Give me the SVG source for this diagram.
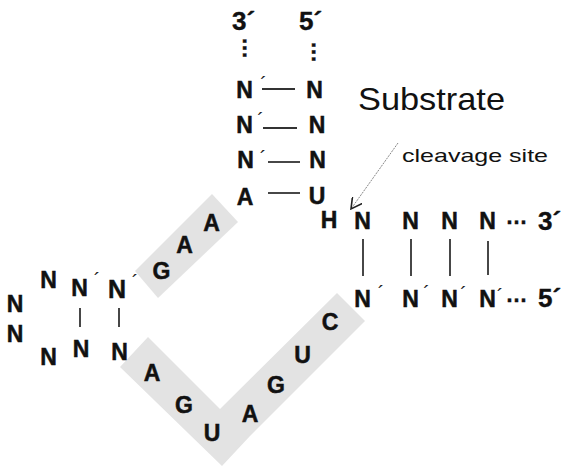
<svg xmlns="http://www.w3.org/2000/svg" width="566" height="467" viewBox="0 0 566 467">
  <style>
    .b { font-family: "Liberation Sans", Arial, sans-serif; font-weight: bold; font-size: 23px; fill: #111; stroke: #111; stroke-width: 0.5; text-anchor: middle; }
    .end { font-family: "Liberation Sans", Arial, sans-serif; font-weight: bold; font-size: 26px; fill: #111; stroke: #111; stroke-width: 0.4; }
    .pr { font-family: "Liberation Sans", Arial, sans-serif; font-size: 20px; fill: #222; text-anchor: middle; }
    .dots { font-family: "Liberation Sans", Arial, sans-serif; font-weight: bold; font-size: 22px; fill: #111; stroke: #111; stroke-width: 0.4; text-anchor: middle; }
    .lbl { font-family: "Liberation Sans", Arial, sans-serif; fill: #111; }
    .band { fill: #e3e3e3; }
    .bond { stroke: #333; stroke-width: 1.8; fill: none; }
    .ptr { stroke: #888; stroke-width: 1; fill: none; }
  </style>
  <defs>
    <marker id="vhead" viewBox="0 0 12 12" refX="11" refY="6" markerWidth="12" markerHeight="12" markerUnits="userSpaceOnUse" orient="auto">
      <path d="M0,0 L11,6 L0,12" fill="none" stroke="#222" stroke-width="1.6"/>
    </marker>
  </defs>

  <!-- shaded conserved core -->
  <g id="core-bands">
    <polygon class="band" points="135,271 212,194 238,222 158,298"/>
    <polygon class="band" points="120,367 148,337 220,409 337,293 365,321 250,436 222,466"/>
  </g>

  <!-- base-pair bonds and the cleavage pointer -->
  <g id="connectors">
    <line class="bond" x1="262" y1="89" x2="295" y2="89"/>
    <line class="bond" x1="263" y1="128" x2="297" y2="128"/>
    <line class="bond" x1="268" y1="162" x2="300" y2="162"/>
    <line class="bond" x1="268" y1="193" x2="300" y2="193"/>
    <line class="bond" x1="363" y1="239" x2="363" y2="276"/>
    <line class="bond" x1="411" y1="239" x2="411" y2="276"/>
    <line class="bond" x1="450" y1="239" x2="450" y2="276"/>
    <line class="bond" x1="488" y1="241" x2="488" y2="275"/>
    <line class="bond" x1="80" y1="308" x2="80" y2="327"/>
    <line class="bond" x1="119" y1="308" x2="119" y2="327"/>
    <line class="ptr" x1="398" y1="143" x2="351" y2="209" stroke-dasharray="2 1" marker-end="url(#vhead)"/>
  </g>

  <!-- top helix (substrate 3'/5' arms) -->
  <g id="top-helix">
    <text class="end" x="232" y="30">3´</text>
    <text class="end" x="299" y="30">5´</text>
    <text class="dots" transform="translate(242.5,48) rotate(90)">…</text>
    <text class="dots" transform="translate(311.5,52) rotate(90)">…</text>
    <text class="b" x="244.5" y="98">N</text>
    <text class="pr" x="263.5" y="91">´</text>
    <text class="b" x="314.5" y="98">N</text>
    <text class="b" x="244.5" y="133">N</text>
    <text class="pr" x="260.5" y="127">´</text>
    <text class="b" x="317" y="133">N</text>
    <text class="b" x="245.5" y="168">N</text>
    <text class="pr" x="263" y="165">´</text>
    <text class="b" x="317.5" y="168">N</text>
    <text class="b" x="245" y="205">A</text>
    <text class="b" x="317" y="204">U</text>
  </g>

  <!-- right helix -->
  <g id="right-helix">
    <text class="b" x="329" y="228">H</text>
    <text class="b" x="362.5" y="229">N</text>
    <text class="b" x="410.5" y="229">N</text>
    <text class="b" x="449.5" y="229">N</text>
    <text class="b" x="487.5" y="229">N</text>
    <text class="dots" x="516.5" y="223.5">…</text>
    <text class="end" x="538" y="230">3´</text>
    <text class="b" x="362.5" y="307">N</text>
    <text class="pr" x="381" y="300">´</text>
    <text class="b" x="410.5" y="307">N</text>
    <text class="pr" x="426.5" y="300">´</text>
    <text class="b" x="449.5" y="307">N</text>
    <text class="pr" x="463.5" y="301">´</text>
    <text class="b" x="487.5" y="307">N</text>
    <text class="pr" x="500" y="303">´</text>
    <text class="dots" x="516.5" y="301.5">…</text>
    <text class="end" x="538" y="307">5´</text>
  </g>

  <!-- left stem-loop -->
  <g id="left-loop">
    <text class="b" x="48.5" y="288">N</text>
    <text class="b" x="15" y="312">N</text>
    <text class="b" x="15" y="342">N</text>
    <text class="b" x="48.5" y="365">N</text>
    <text class="b" x="79.5" y="296">N</text>
    <text class="pr" x="97" y="287">´</text>
    <text class="b" x="117" y="298" style="font-size:25px">N</text>
    <text class="pr" x="135" y="289">´</text>
    <text class="b" x="81" y="357">N</text>
    <text class="b" x="119.5" y="360">N</text>
  </g>

  <!-- conserved core bases -->
  <g id="core-upper">
    <text class="b" x="161.5" y="279">G</text>
    <text class="b" x="184.5" y="253">A</text>
    <text class="b" x="211.5" y="231">A</text>
  </g>
  <g id="core-lower">
    <text class="b" x="152" y="381">A</text>
    <text class="b" x="184" y="413">G</text>
    <text class="b" x="212" y="441">U</text>
    <text class="b" x="250" y="422">A</text>
    <text class="b" x="276" y="393">G</text>
    <text class="b" x="302.5" y="363">U</text>
    <text class="b" x="330" y="330">C</text>
  </g>

  <!-- labels -->
  <g id="labels">
    <text class="lbl" x="358" y="110" font-size="32" textLength="147" lengthAdjust="spacingAndGlyphs">Substrate</text>
    <text class="lbl" x="402" y="162" font-size="19" textLength="146" lengthAdjust="spacingAndGlyphs">cleavage site</text>
  </g>
</svg>
